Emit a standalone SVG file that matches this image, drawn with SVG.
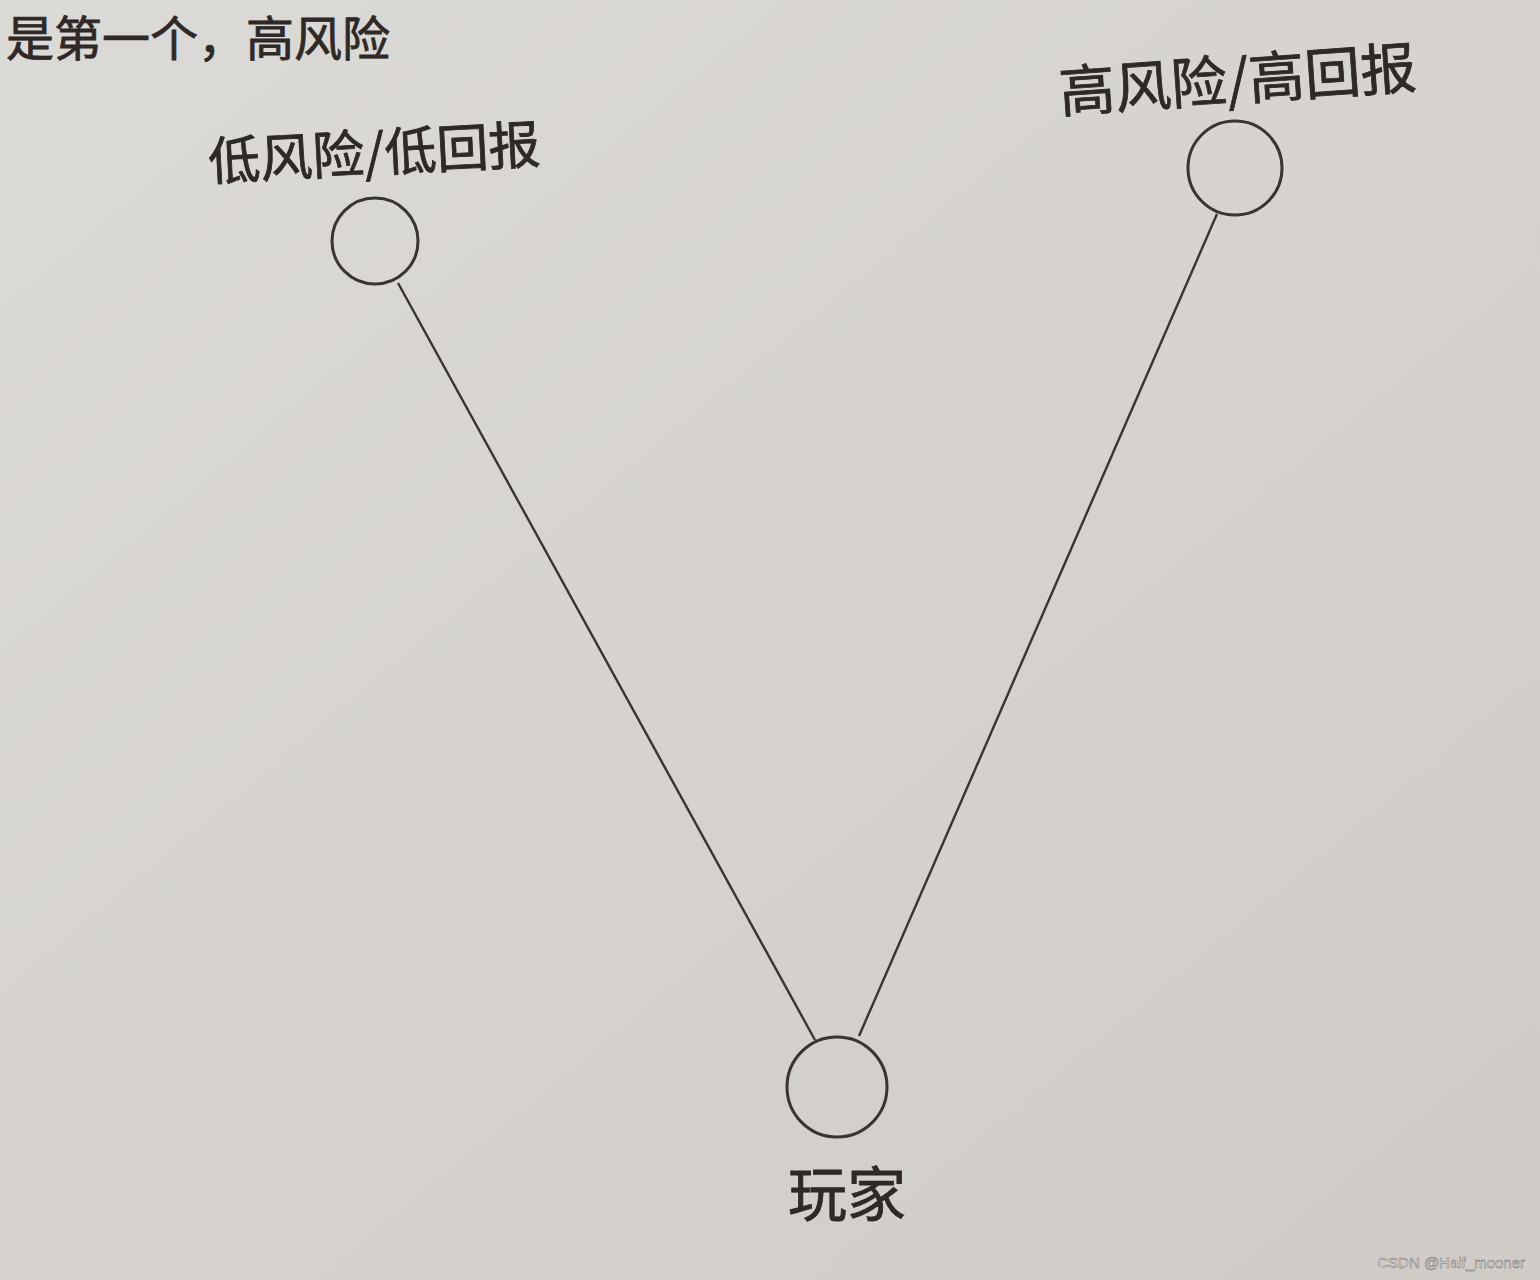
<svg xmlns="http://www.w3.org/2000/svg" width="1540" height="1280" viewBox="0 0 1540 1280">
<defs>
<linearGradient id="bg" x1="0" y1="0" x2="1" y2="1">
<stop offset="0" stop-color="#dcdad6"/>
<stop offset="1" stop-color="#cfccc8"/>
</linearGradient>
<style>
.node{fill:none;stroke:#3a3431;stroke-width:3}
.edge{stroke:#3a3431;stroke-width:2.4;fill:none}
.lbl{font-family:"Noto Sans CJK SC","Noto Sans",sans-serif;fill:#2e2926;stroke:#2e2926;stroke-width:0.8}
</style>
</defs>
<rect width="1540" height="1280" fill="url(#bg)"/>
<text class="lbl" x="6" y="56" font-size="48">是第一个，高风险</text>
<g id="connectors">
<line class="edge" x1="398" y1="283" x2="815" y2="1040"/>
<line class="edge" x1="1217" y1="214" x2="859" y2="1036"/>
</g>
<g id="node-low">
<circle class="node" cx="375" cy="241" r="43"/>
<text class="lbl" x="208" y="172" font-size="52" transform="rotate(-3 370 150)">低风险/低回报</text>
</g>
<g id="node-high">
<circle class="node" cx="1235" cy="168" r="47"/>
<text class="lbl" x="1058" y="100" font-size="56" transform="rotate(-4 1240 70)">高风险/高回报</text>
</g>
<g id="node-player">
<circle class="node" cx="837" cy="1087" r="50"/>
<text class="lbl" x="847" y="1216" font-size="59" text-anchor="middle">玩家</text>
</g>
<text x="1525" y="1268" font-size="15" text-anchor="end" font-family="Liberation Sans, Arial, sans-serif" fill="#ececec" stroke="#6f6d6a" stroke-width="0.5">CSDN @Half_mooner</text>
</svg>
